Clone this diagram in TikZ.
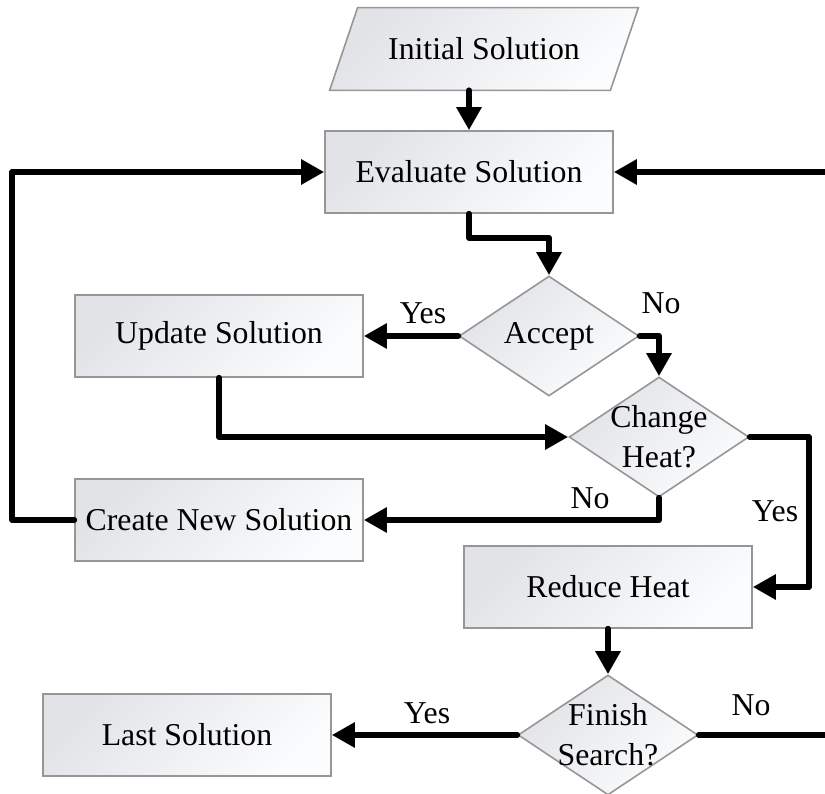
\documentclass[tikz,border=0pt]{standalone}
\usepackage{fontspec}
\setmainfont{Liberation Serif}
\usetikzlibrary{shapes.geometric,arrows.meta,positioning,calc}
\newcommand{\chartfont}{\fontsize{15.9}{20}\selectfont}
\definecolor{boxgray}{RGB}{225,227,231}
\definecolor{boxwhite}{RGB}{251,252,253}
\definecolor{edgegray}{RGB}{150,150,150}
\tikzset{
	boxshade/.style={draw=edgegray, line width=0.8pt, top color=boxgray, bottom color=boxwhite, shading angle=45},
	procbox/.style={rectangle, boxshade, minimum width=144pt, minimum height=41pt, font=\chartfont, inner sep=2pt},
	decbox/.style={diamond, boxshade, aspect=1.5, minimum width=90pt, minimum height=60pt, inner sep=-4pt,
		align=center, font=\chartfont},
	iobox/.style={rectangle, minimum width=140pt, minimum height=41pt, font=\chartfont, inner sep=2pt},
	flowline/.style={-{Triangle[length=11.5pt,width=12pt]}, line width=3pt, line cap=round, line join=round},
	branch/.style={font=\chartfont, inner sep=1pt}
}
\begin{document}
\begin{tikzpicture}[x=0.5pt, y=-0.5pt]
	\useasboundingbox (0,0) rectangle (825,793);
	\clip (0,0) rectangle (825,793);
	\node[iobox] (init) at (484,49) {};
	\shade[boxshade] ($(init.south west)+(-14,0)$) -- ($(init.north west)+(14,0)$)
		-- ($(init.north east)+(14,0)$) -- ($(init.south east)+(-14,0)$) -- cycle;
	\node[iobox] (inittext) at (init) {Initial Solution};
	\node[procbox] (eval) at (469,172) {Evaluate Solution};
	\node[decbox] (accept) at (549,336) {Accept};
	\node[procbox] (update) at (219,336) {Update Solution};
	\node[decbox] (change) at (659,437) {Change\\Heat?};
	\node[procbox] (create) at (219,520) {Create New Solution};
	\node[procbox] (reduce) at (608,587) {Reduce Heat};
	\node[decbox] (finish) at (608,735) {Finish\\Search?};
	\node[procbox] (last) at (187,735) {Last Solution};
	% branch labels
	\node[branch] (acceptyes) at (423,313) {Yes};
	\node[branch] (acceptno) at (661,303) {No};
	\node[branch] (changeno) at (590,498) {No};
	\node[branch] (changeyes) at (775,511) {Yes};
	\node[branch] (finishyes) at (427,713) {Yes};
	\node[branch] (finishno) at (751,705) {No};
	\draw[flowline] (init.south -| eval.north) -- (eval.north);
	\draw[flowline] (eval.south) -- ++(0,24) -| (accept.north);
	\draw[flowline] (accept.west) -- (update.east);
	\draw[flowline] (accept.east) -| (change.north);
	\draw[flowline] (update.south) |- (change.west);
	\draw[flowline] (change.south) |- (create.east);
	\draw[flowline] (change.east) -- ++(59,0) |- (reduce.east);
	\draw[flowline] (create.west) -- ++(-62,0) |- (eval.west);
	\draw[flowline] (reduce.south) -- (finish.north);
	\draw[flowline] (finish.west) -- (last.east);
	\draw[flowline] (finish.east) -- ++(150,0) |- (eval.east);
\end{tikzpicture}
\end{document}
